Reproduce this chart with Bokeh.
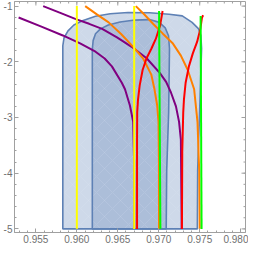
import math
from bokeh.plotting import figure
from bokeh.models import Range1d, LinearAxis, FixedTicker, NumeralTickFormatter
from bokeh.embed import file_html
from bokeh.resources import INLINE

# ---- data ----
x_major = [0.955, 0.960, 0.965, 0.970, 0.975, 0.980]
x_minor = [round(0.953 + 0.001 * i, 3) for i in range(28)]
y_major = [-5, -4, -3, -2, -1]
y_minor = [round(-5 + 0.2 * i, 1) for i in range(21)]
y_labels = {-5: "-5", -4: "-4", -3: "-3", -2: "-2", -1: "-1"}

outer_x = [0.95829, 0.95829, 0.95844, 0.95892, 0.95964, 0.96068, 0.96228, 0.96408, 0.96624,
           0.96887, 0.97127, 0.97287, 0.97407, 0.97487, 0.97514, 0.97523, 0.97499, 0.97475, 0.97471]
outer_y = [-5.0, -1.708, -1.568, -1.445, -1.339, -1.264, -1.181, -1.137, -1.116,
           -1.120, -1.146, -1.176, -1.292, -1.409, -1.527, -1.761, -2.903, -3.958, -5.0]

inner_x = [0.96189, 0.96189, 0.96199, 0.96228, 0.96288, 0.96384, 0.96528, 0.96708, 0.96888,
           0.97007, 0.97079, 0.97119, 0.97131, 0.97121, 0.97097, 0.97091]
inner_y = [-5.0, -1.778, -1.620, -1.497, -1.409, -1.339, -1.286, -1.251, -1.242,
           -1.292, -1.392, -1.532, -1.761, -2.903, -3.958, -5.0]

purple1_x = [0.95589, 0.95790, 0.95988, 0.96150, 0.96309, 0.96490, 0.96669, 0.96852, 0.97012,
             0.97090, 0.97149, 0.97210, 0.97248, 0.97270, 0.97280]
purple1_y = [-1.0, -1.118, -1.234, -1.318, -1.409, -1.560, -1.731, -1.937, -2.200,
             -2.360, -2.551, -2.800, -3.079, -3.40, -5.0]
purple2_x = [0.95289, 0.95560, 0.95829, 0.96040, 0.96228, 0.96340, 0.96428, 0.96549, 0.96588,
             0.96648, 0.96688, 0.96699, 0.96702]
purple2_y = [-1.204, -1.365, -1.527, -1.670, -1.819, -1.940, -2.082, -2.376, -2.493,
             -2.785, -3.079, -3.78, -5.0]

orange1_x = [0.96102, 0.96240, 0.96388, 0.96540, 0.96688, 0.96808, 0.96909, 0.96948, 0.96981,
             0.96997, 0.97002, 0.97003]
orange1_y = [-1.0, -1.145, -1.292, -1.500, -1.731, -1.937, -2.230, -2.494, -2.785,
             -3.079, -3.78, -5.0]
orange2_x = [0.96720, 0.96830, 0.96933, 0.97050, 0.97173, 0.97270, 0.97353, 0.97432, 0.97473,
             0.97494, 0.97500]
orange2_y = [-1.0, -1.160, -1.322, -1.495, -1.673, -1.890, -2.142, -2.493, -3.079,
             -3.96, -5.0]

red1_x = [0.97047, 0.97016, 0.96965, 0.96911, 0.96851, 0.96803, 0.96767, 0.96747, 0.96737,
          0.96735, 0.96735]
red1_y = [-1.088, -1.351, -1.585, -1.761, -1.937, -2.147, -2.428, -2.674, -2.903,
          -3.430, -5.0]
red2_x = [0.97542, 0.97528, 0.97508, 0.97468, 0.97416, 0.97368, 0.97328, 0.97308, 0.97299,
          0.97287, 0.97283]
red2_y = [-1.163, -1.204, -1.409, -1.643, -1.849, -2.082, -2.376, -2.669, -2.903,
          -3.606, -5.0]

yellow1_x = [0.9600, 0.9600]
yellow1_y = [-1.0, -5.0]
yellow2_x = [0.9670, 0.9670]
yellow2_y = [-1.0, -5.0]

green1_x = [0.97004, 0.97020]
green1_y = [-1.088, -5.0]
green2_x = [0.97511, 0.97523]
green2_y = [-1.176, -5.0]

# ---- figure ----
X0, X1 = 0.95239, 0.98059
Y0, Y1 = -5.065, -0.9174
p = figure(width=248, height=245, output_backend="svg", toolbar_location=None,
           x_range=Range1d(X0, X1), y_range=Range1d(Y0, Y1),
           x_axis_location=None, y_axis_location=None,
           min_border_left=0, min_border_right=3, min_border_top=1, min_border_bottom=0)
p.grid.visible = False
frame_col = "#a0a0a0"
lab_col = "#707070"
p.outline_line_color = frame_col
p.outline_line_width = 1
p.background_fill_color = "white"
p.border_fill_color = "white"


def make_axis(ticks, minor, standoff):
    ax = LinearAxis(ticker=FixedTicker(ticks=ticks, minor_ticks=minor))
    ax.axis_line_color = frame_col
    ax.major_tick_line_color = frame_col
    ax.minor_tick_line_color = frame_col
    ax.major_tick_in = 4
    ax.major_tick_out = 0
    ax.minor_tick_in = 2
    ax.minor_tick_out = 0
    ax.major_label_text_font = "Liberation Sans"
    ax.major_label_text_color = lab_col
    ax.major_label_text_font_size = "10px"
    ax.major_label_standoff = standoff
    return ax


xa = make_axis(x_major, x_minor, 2)
xa.formatter = NumeralTickFormatter(format="0.000")
p.add_layout(xa, "below")
ya = make_axis(y_major, y_minor, 2)
ya.major_label_overrides = y_labels
p.add_layout(ya, "left")

# inward ticks on the top and right frame edges (half of each dash is clipped by the frame)
p.scatter(x_major, [Y1] * len(x_major), marker="dash", angle=math.pi / 2, size=8,
          line_color=frame_col, line_width=1)
p.scatter(x_minor, [Y1] * len(x_minor), marker="dash", angle=math.pi / 2, size=4,
          line_color=frame_col, line_width=1)
p.scatter([X1] * len(y_major), y_major, marker="dash", size=8, line_color=frame_col, line_width=1)
p.scatter([X1] * len(y_minor), y_minor, marker="dash", size=4, line_color=frame_col, line_width=1)

reg_fill = "#5e81b5"
for rx, ry in ((outer_x, outer_y), (inner_x, inner_y)):
    p.patch(rx, ry, fill_color=reg_fill, fill_alpha=0.3, line_color=reg_fill,
            line_width=1.6, hatch_pattern="diagonal_cross", hatch_color="#ffffff",
            hatch_alpha=0.12, hatch_scale=16, hatch_weight=0.6)

lw = 2
p.line(purple1_x, purple1_y, line_color="#800080", line_width=lw)
p.line(purple2_x, purple2_y, line_color="#800080", line_width=lw)
p.line(orange1_x, orange1_y, line_color="#ff8000", line_width=lw)
p.line(orange2_x, orange2_y, line_color="#ff8000", line_width=lw)
p.line(red1_x, red1_y, line_color="#ff0000", line_width=lw)
p.line(red2_x, red2_y, line_color="#ff0000", line_width=lw)
p.line(yellow1_x, yellow1_y, line_color="#ffff00", line_width=lw)
p.line(yellow2_x, yellow2_y, line_color="#ffff00", line_width=lw)
p.line(green1_x, green1_y, line_color="#00ff00", line_width=lw)
p.line(green2_x, green2_y, line_color="#00ff00", line_width=lw)

open("out.html", "w").write(file_html(p, INLINE))
